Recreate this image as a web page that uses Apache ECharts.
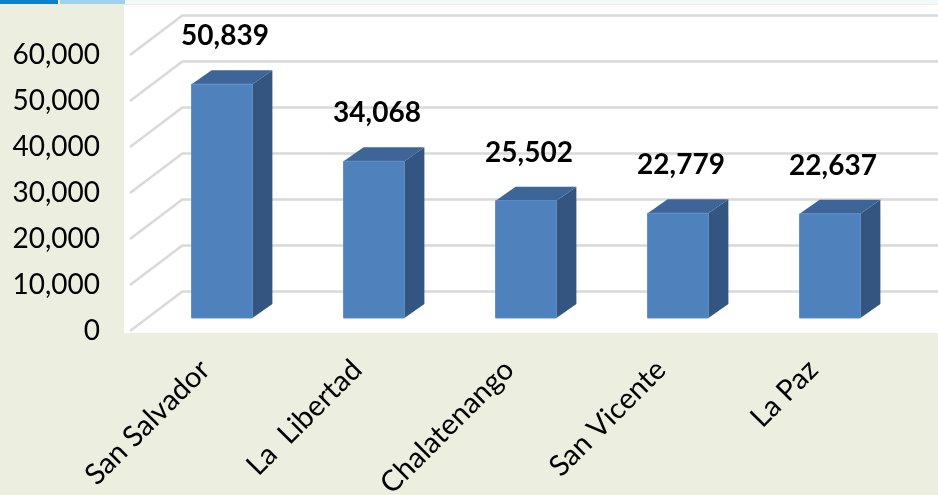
<!DOCTYPE html>
<html>
<head>
<meta charset="utf-8">
<script src="https://cdn.jsdelivr.net/npm/echarts@6/dist/echarts.min.js"></script>
<style>
  html, body { margin: 0; padding: 0; background: #ECEFDF; }
  #chart { width: 938px; height: 495px; }
</style>
</head>
<body>
<div id="chart"></div>
<script>
  // departamentos y valores
  let categories = ['San Salvador', 'La  Libertad', 'Chalatenango', 'San Vicente', 'La Paz']
  let values = [50839, 34068, 25502, 22779, 22637]
  let ticks = [0, 10000, 20000, 30000, 40000, 50000, 60000]

  let depthX = 20
  let depthY = -14
  let fontName = 'Lato, "Open Sans", sans-serif'
  let fmt = v => v.toLocaleString('en-US')

  let chart = echarts.init(document.getElementById('chart'))

  let renderBar = (params, api) => {
    let idx = api.value(0)
    let top = api.coord([idx, api.value(1)])
    let base = api.coord([idx, 0])
    let w = api.size([1, 0])[0] * 0.4
    let x0 = top[0] - w / 2
    let x1 = top[0] + w / 2
    return {
      type: 'group',
      children: [
        {
          type: 'polygon',
          shape: { points: [[x1, top[1]], [x1 + depthX, top[1] + depthY], [x1 + depthX, base[1] + depthY], [x1, base[1]]] },
          style: { fill: '#34557F' }
        },
        {
          type: 'polygon',
          shape: { points: [[x0, top[1]], [x0 + depthX, top[1] + depthY], [x1 + depthX, top[1] + depthY], [x1, top[1]]] },
          style: { fill: '#3D6597' }
        },
        {
          type: 'rect',
          shape: { x: x0, y: top[1], width: w, height: base[1] - top[1] },
          style: { fill: '#4F81BD', stroke: '#5B8BC6', lineWidth: 1 }
        },
        {
          type: 'text',
          x: top[0] + 3,
          y: top[1] - 48,
          style: {
            text: fmt(api.value(1)),
            font: 'bold 28px ' + fontName,
            fill: '#000',
            align: 'center',
            verticalAlign: 'middle'
          }
        }
      ]
    }
  }

  let renderDiagonal = (params, api) => {
    let p = api.coord([0, api.value(0)])
    return {
      type: 'line',
      shape: { x1: p[0], y1: p[1], x2: p[0] + 53, y2: p[1] - 40 },
      style: { stroke: '#D9D9D9', lineWidth: 2.5 }
    }
  }

  let option = {
    backgroundColor: '#ECEFDF',
    animation: false,
    graphic: [
      { type: 'rect', shape: { x: 124, y: 5, width: 814, height: 328 }, style: { fill: '#FFFFFF' }, z: -10 },
      { type: 'rect', shape: { x: 124, y: 0, width: 814, height: 4 }, style: { fill: '#F2F9FB' }, z: -10 },
      { type: 'rect', shape: { x: 0, y: 0, width: 58, height: 4 }, style: { fill: '#0A80CC' }, z: -10 },
      { type: 'rect', shape: { x: 60, y: 0, width: 65, height: 4 }, style: { fill: '#9FD0EE' }, z: -10 }
    ],
    grid: [
      { left: 146, right: 32, top: 42, bottom: 177, outerBoundsMode: 'none' },
      { left: 183, right: 0, top: 15, bottom: 204, outerBoundsMode: 'none' },
      { left: 130, right: 0, top: 55, bottom: 164, outerBoundsMode: 'none' }
    ],
    xAxis: [
      {
        gridIndex: 0,
        type: 'category',
        data: categories,
        axisLine: { show: false },
        axisTick: { show: false },
        axisLabel: {
          rotate: 45,
          margin: 30,
          padding: [0, 24, 0, 0],
          interval: 0,
          fontFamily: fontName,
          fontSize: 29,
          color: '#000'
        }
      },
      { gridIndex: 1, type: 'value', min: 0, max: 1, show: false },
      { gridIndex: 2, type: 'value', min: 0, max: 1, show: false }
    ],
    yAxis: [
      { gridIndex: 0, type: 'value', min: 0, max: 60000, interval: 10000, show: false },
      {
        gridIndex: 1,
        type: 'value',
        min: 0,
        max: 60000,
        interval: 10000,
        axisLine: { show: false },
        axisTick: { show: false },
        axisLabel: { show: false },
        splitLine: { show: true, lineStyle: { color: '#D9D9D9', width: 2.5 } }
      },
      {
        gridIndex: 2,
        type: 'value',
        min: 0,
        max: 60000,
        interval: 10000,
        axisLine: { show: false },
        axisTick: { show: false },
        splitLine: { show: false },
        axisLabel: {
          margin: 30,
          fontFamily: fontName,
          fontSize: 28,
          color: '#000',
          formatter: v => fmt(v)
        }
      }
    ],
    series: [
      {
        type: 'custom',
        xAxisIndex: 2,
        yAxisIndex: 2,
        data: ticks.map(t => [t]),
        encode: { y: 0 },
        renderItem: renderDiagonal,
        z: 1
      },
      {
        type: 'custom',
        xAxisIndex: 0,
        yAxisIndex: 0,
        data: values.map((v, i) => [i, v]),
        encode: { x: 0, y: 1 },
        renderItem: renderBar,
        z: 5
      }
    ]
  }

  chart.setOption(option)
</script>
</body>
</html>
